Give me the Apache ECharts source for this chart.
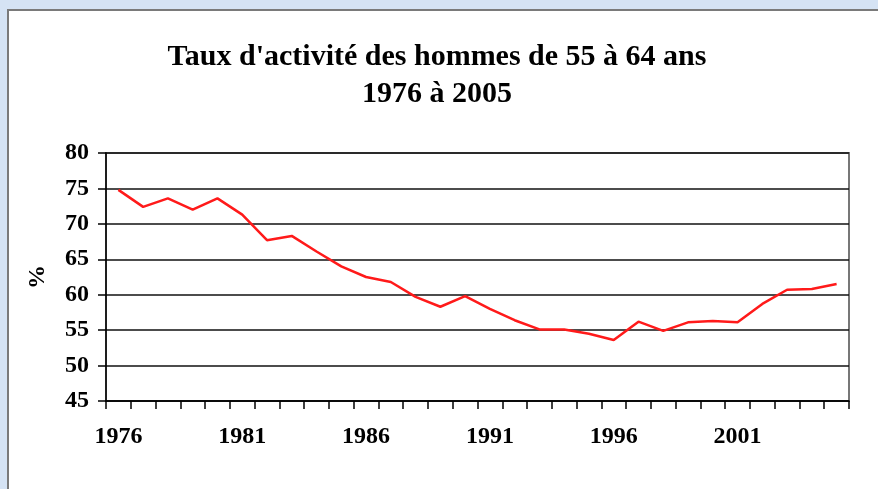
<!DOCTYPE html>
<html>
<head>
<meta charset="utf-8">
<script src="https://cdn.jsdelivr.net/npm/echarts@6/dist/echarts.min.js"></script>
<style>
  html, body { margin: 0; padding: 0; background: #d5e3f4; }
  #chart { width: 878px; height: 489px; }
</style>
</head>
<body>
<div id="chart"></div>
<script>
const years = [];
for (let y = 1976; y <= 2005; y++) years.push(String(y));

// taux d'activité (%)
const rates = [
  74.8, 72.4, 73.6, 72.0, 73.6, 71.3, 67.7, 68.3, 66.1, 64.0,
  62.5, 61.8, 59.7, 58.3, 59.8, 58.0, 56.4, 55.1, 55.1, 54.5,
  53.6, 56.2, 54.9, 56.1, 56.3, 56.1, 58.7, 60.7, 60.8, 61.5
];

const titleLines = ["Taux d'activité des hommes de 55 à 64 ans", "1976 à 2005"];
const serif = "'Liberation Serif', 'DejaVu Serif', serif";

const chart = echarts.init(document.getElementById("chart"));
chart.setOption({
  backgroundColor: "#d5e3f4",
  animation: false,
  graphic: [
    {
      type: "rect",
      z: -10,
      shape: { x: 8, y: 10, width: 900, height: 500 },
      style: { fill: "#ffffff", stroke: "#7a7a7a", lineWidth: 2 }
    }
  ],
  title: {
    text: titleLines.join("\n"),
    left: 432,
    top: 34,
    textAlign: "center",
    textStyle: {
      fontFamily: serif,
      fontWeight: "bold",
      fontSize: 30,
      lineHeight: 37,
      color: "#000"
    }
  },
  grid: { left: 106, right: 29, top: 153, bottom: 88, containLabel: false, show: true, borderColor: "#777", borderWidth: 2 },
  xAxis: {
    type: "category",
    data: years,
    boundaryGap: true,
    axisLine: { lineStyle: { color: "#000", width: 1.5 } },
    axisTick: { show: true, length: 8, interval: 0, alignWithLabel: false, lineStyle: { color: "#000", width: 1.5 } },
    axisLabel: {
      interval: 4,
      margin: 24,
      color: "#000",
      fontFamily: serif,
      fontWeight: "bold",
      fontSize: 24
    },
    splitLine: { show: false }
  },
  yAxis: {
    type: "value",
    min: 45,
    max: 80,
    interval: 5,
    name: "%",
    nameLocation: "middle",
    nameGap: 56,
    nameRotate: 90,
    nameTextStyle: { fontFamily: serif, fontWeight: "bold", fontSize: 24, color: "#000" },
    axisLine: { show: true, lineStyle: { color: "#000", width: 1.5 } },
    axisTick: { show: true, length: 8, lineStyle: { color: "#000", width: 1.5 } },
    axisLabel: {
      margin: 17,
      color: "#000",
      fontFamily: serif,
      fontWeight: "bold",
      fontSize: 24
    },
    splitLine: { show: true, lineStyle: { color: "#111", width: 1.5 } }
  },
  series: [
    {
      type: "line",
      data: rates,
      symbol: "none",
      lineStyle: { color: "#ff1a1a", width: 2.5 }
    }
  ]
});
</script>
</body>
</html>
